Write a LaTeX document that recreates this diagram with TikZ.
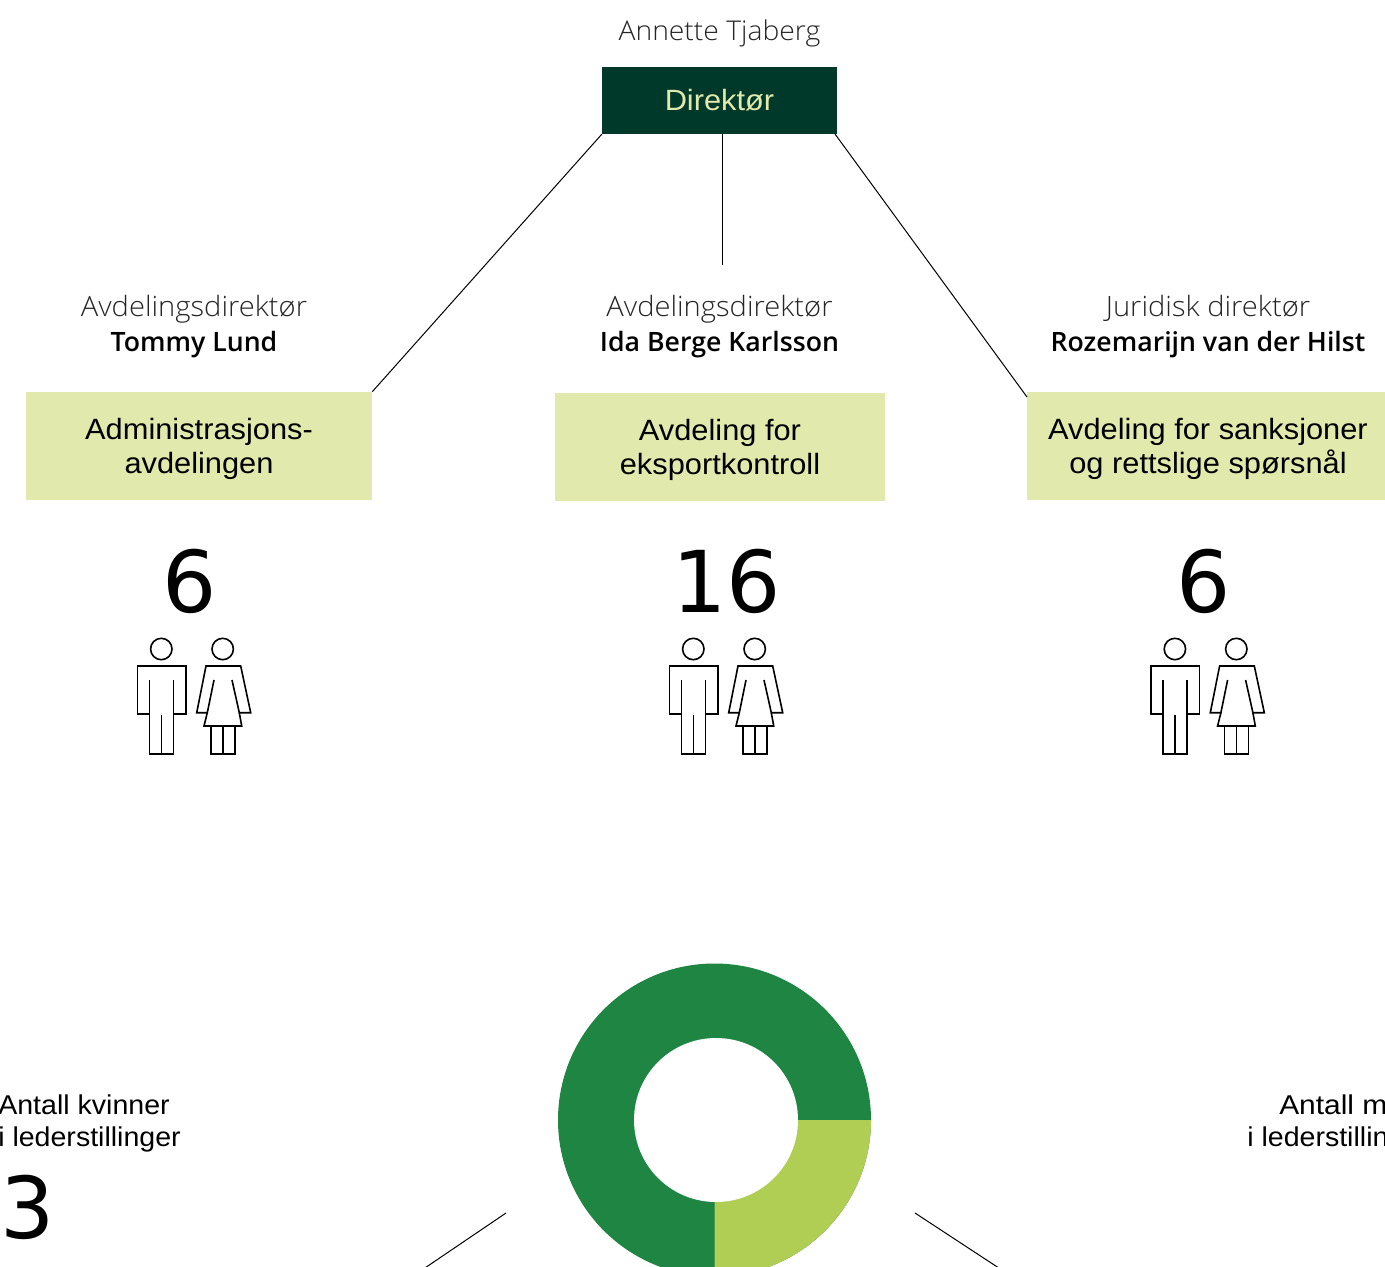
\documentclass[tikz,border=0pt]{standalone}
\usepackage{fontspec}
\setmainfont[FakeStretch=1.05]{Liberation Sans}
\newfontfamily\lightf[FakeStretch=1.04]{Open Sans Light}
\newfontfamily\boldf{Open Sans Semibold}
\newfontfamily\bigf{DejaVu Sans}
\newfontfamily\widef[FakeStretch=1.1]{Liberation Sans}
\definecolor{darkbox}{HTML}{00382A}
\definecolor{palebox}{HTML}{E1EAAC}
\definecolor{donutd}{HTML}{1E8542}
\definecolor{donutl}{HTML}{B0CE54}
\newcommand{\paletext}[2]{\raisebox{-8.25pt}[0pt][0pt]{\begin{tabular}{@{}c@{}}#1\\#2\end{tabular}}}
\tikzset{
  x=0.75pt,y=-0.75pt,
  palenode/.style={fill=palebox,inner sep=0pt,align=center,font=\fontsize{22pt}{25.5pt}\selectfont,text=black},
  lighttxt/.style={inner sep=0pt,anchor=base,font=\fontsize{21pt}{24pt}\lightf,text=black!85},
  boldtxt/.style={inner sep=0pt,anchor=base,font=\fontsize{20pt}{24pt}\boldf,text=black},
  bignum/.style={inner sep=0pt,anchor=base,font=\fontsize{64pt}{64pt}\bigf,text=black},
  plaintxt/.style={inner sep=0pt,align=left,font=\fontsize{20.4pt}{24pt}\selectfont,text=black},
  conn/.style={draw=black,line width=0.75pt},
  icon/.style={draw=black,line width=1.2pt,line join=miter,fill=none},
  couple/.pic={
    \draw[icon] (161.3,649) circle[radius=10.7];
    \draw[icon] (149.3,680) -- (149.3,713.7) -- (137.3,713.7) -- (137.3,666) -- (185.7,666) -- (185.7,713.7) -- (173.3,713.7) -- (173.3,680);
    \draw[icon] (149.3,713.7) -- (149.3,754) -- (173.3,754) -- (173.3,713.7);
    \draw[icon] (161.3,715) -- (161.3,754);
    \draw[icon] (222.7,649) circle[radius=10.7];
    \draw[icon] (214,680) -- (207.3,712.7) -- (196.7,712.7) -- (206,666) -- (240.7,666) -- (250.7,712.7) -- (239.3,712.7) -- (232,680);
    \draw[icon] (207.3,712.7) -- (204,726) -- (241.7,726) -- (239.3,712.7);
    \draw[icon] (210.7,726) -- (210.7,754) -- (235,754) -- (235,726);
    \draw[icon] (222.7,726) -- (222.7,754);
  }
}
\begin{document}
\begin{tikzpicture}
\useasboundingbox (0,0) rectangle (1385,1267);
\clip (0,0) rectangle (1385,1267);
% boxes
\node[fill=darkbox,minimum width=176pt,minimum height=50pt,inner sep=0pt,text=palebox,font=\fontsize{22pt}{25pt}\selectfont] (dir) at (719.5,100.5) {\raisebox{0.7pt}{Direktør}};
\node[palenode,minimum width=259.5pt,minimum height=81pt] (adm) at (199,446) {\paletext{Administrasjons-}{avdelingen}};
\node[palenode,minimum width=247.5pt,minimum height=81pt] (eks) at (720,447) {\paletext{Avdeling for}{eksportkontroll}};
\node[palenode,minimum width=268.5pt,minimum height=81pt] (san) at (1206,446) {\hspace*{3pt}\paletext{Avdeling for sanksjoner}{og rettslige spørsnål}};
% names
\node[lighttxt,font=\fontsize{20.4pt}{24pt}\lightf] (annette) at (719.5,40) {Annette Tjaberg};
\node[lighttxt] (t1) at (194,316) {Avdelingsdirektør};
\node[boldtxt] (n1) at (194,351) {Tommy Lund};
\node[lighttxt] (t2) at (719.5,316) {Avdelingsdirektør};
\node[boldtxt] (n2) at (719.5,351) {Ida Berge Karlsson};
\node[lighttxt] (t3) at (1208,316) {Juridisk direktør};
\node[boldtxt] (n3) at (1208,351) {Rozemarijn van der Hilst};
% connectors
\coordinate (dirb) at (722.4,134);
\coordinate (midend) at (722.4,265);
\coordinate (dirr) at (835,134);
\coordinate (sanl) at (1027,397);
\draw[conn] (dir.south west) -- (adm.north east);
\draw[conn] (dirb) -- (midend);
\draw[conn] (dirr) -- (sanl);
% numbers
\node[bignum] (c1) at (190,612) {6};
\node[bignum] (c2) at (727,612) {16};
\node[bignum] (c3) at (1204,612) {6};
\pic at (0,0) {couple};
\pic at (532,0) {couple};
\pic at (1013.6,0) {couple};
% donut
\fill[donutd] (714.5,1120) circle[radius=156.5];
\fill[donutl] (871,1120) arc[start angle=0,end angle=90,radius=156.5] -- (714.5,1120) -- cycle;
\fill[white] (716,1120) circle[radius=82];
% bottom labels
\node[plaintxt,anchor=west] (kv) at (-2,1123) {Antall kvinner\\i lederstillinger};
\node[plaintxt,anchor=west] (me) at (1247,1123) {\hspace*{24pt}{\widef Antall menn}\\i lederstillinger};
\node[bignum,anchor=base west] (k3) at (0,1238) {3};
\coordinate (la) at (506,1213);
\coordinate (lb) at (416,1274);
\coordinate (ra) at (915,1213);
\coordinate (rb) at (1008,1274);
\draw[conn] (la) -- (lb);
\draw[conn] (ra) -- (rb);
\end{tikzpicture}
\end{document}
